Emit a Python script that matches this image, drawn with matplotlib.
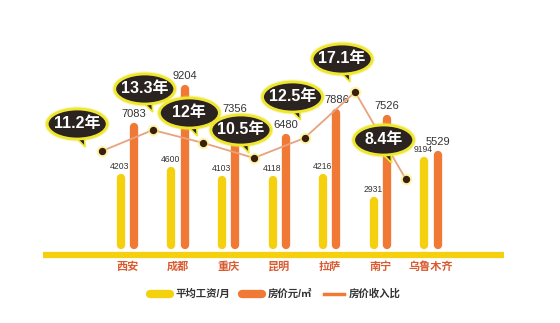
import matplotlib.pyplot as plt
from matplotlib.lines import Line2D
from matplotlib.patches import Ellipse, Polygon
from matplotlib.transforms import Affine2D, ScaledTranslation
import numpy as np

plt.rcParams['font.family'] = ['Liberation Sans', 'Noto Sans CJK SC']

cities = ['西安', '成都', '重庆', '昆明', '拉萨', '南宁', '乌鲁木齐']
wage = [4203, 4600, 4103, 4118, 4216, 2931, 5194]
wage_labels = ['4203', '4600', '4103', '4118', '4216', '2931', '9194']
price = [7083, 9204, 7356, 6480, 7886, 7526, 5529]
ratio = [11.2, 13.3, 12, 10.5, 12.5, 17.1, 8.4]
ratio_labels = ['11.2年', '13.3年', '12年', '10.5年', '12.5年', '17.1年', '8.4年']
# callout offsets in pixels (from dot to bubble centre)
bubble_off = [(-25, 27), (-8, 41), (-14, 30), (-13, 28), (-12, 41), (-13, 33), (-22, 39)]

yellow = '#F5D00F'
orange = '#F07A35'
linec = '#E8A27E'
redtext = '#D85A2E'
dark = '#2A2320'
glow = '#EFE630'

fig = plt.figure(figsize=(5.6, 3.23), dpi=100)
ax = fig.add_axes([0, 0, 1, 1])
ax.set_xlim(-2.52, 8.55)
ax.set_ylim(-4157, 13989)
ax.axis('off')

x = np.arange(len(cities))
half = 225  # half bar width in value units (round caps)
for i in x:
    ax.plot([i - 0.13, i - 0.13], [half, wage[i] - half], color=yellow, lw=6,
            solid_capstyle='round', zorder=2)
    ax.plot([i + 0.13, i + 0.13], [half, price[i] - half], color=orange, lw=6,
            solid_capstyle='round', zorder=2)
    ax.annotate(wage_labels[i], (i - 0.15, wage[i]), xytext=(0, 3), textcoords='offset pixels',
                ha='center', va='bottom', fontsize=6.2, color='#333333', zorder=3)
    ax.annotate(str(price[i]), (i + 0.13, price[i]), xytext=(0, 4), textcoords='offset pixels',
                ha='center', va='bottom', fontsize=8, color='#333333', zorder=3)
    ax.text(i, -1011, cities[i], ha='center', va='center', fontsize=8,
            color=redtext, fontweight='bold')

# baseline
ax.plot([-1.67, 7.44], [-337, -337], color=yellow, lw=4.5, solid_capstyle='butt', zorder=1)

# ratio line on twin scale
ax2 = ax.twinx()
ax2.set_position([0, 0, 1, 1])
ax2.set_ylim(-6.0, 26.3)
ax2.axis('off')
xr = x - 0.5
ax2.plot(xr, ratio, color=linec, lw=1.3, zorder=3)
ax2.scatter(xr, ratio, s=70, color='#F6EE60', alpha=0.5, zorder=4, linewidths=0)
ax2.scatter(xr, ratio, s=28, color='#3B1F0C', zorder=5, linewidths=0)

# speech bubbles, sized in pixels around each dot
bw, bh = 60, 30
for i in x:
    dx, dy = bubble_off[i]
    tr = Affine2D().translate(dx, dy) + ScaledTranslation(xr[i], ratio[i], ax2.transData)
    ax2.add_patch(Ellipse((0, 0), bw + 5, bh + 5, transform=tr, fc=glow, ec='none',
                          alpha=0.35, zorder=6))
    tail = Polygon([(-4, -bh / 2 + 4), (7, -bh / 2 + 4), (8, -bh / 2 - 8)], closed=True,
                   transform=tr, fc=dark, ec=glow, lw=1.2, zorder=6)
    ax2.add_patch(tail)
    ax2.add_patch(Ellipse((0, 0), bw, bh, transform=tr, fc=dark, ec=glow, lw=2.0, zorder=7))
    ax2.text(0, 0, ratio_labels[i], transform=tr, ha='center', va='center', fontsize=11.5,
             fontweight='bold', color='white', zorder=8)

handles = [Line2D([], [], color=yellow, lw=6, solid_capstyle='round'),
           Line2D([], [], color=orange, lw=6, solid_capstyle='round'),
           Line2D([], [], color=orange, lw=2.5)]
leg = fig.legend(handles, ['平均工资/月', '房价元/㎡', '房价收入比'], loc='center',
                 bbox_to_anchor=(0.492, 0.09), ncol=3, frameon=False, fontsize=7.5,
                 handlelength=1.9, columnspacing=1.2, handletextpad=0.5)
for t in leg.get_texts():
    t.set_color('#333333')
    t.set_fontweight('bold')

fig.savefig('out.png', dpi=100, facecolor='white')
